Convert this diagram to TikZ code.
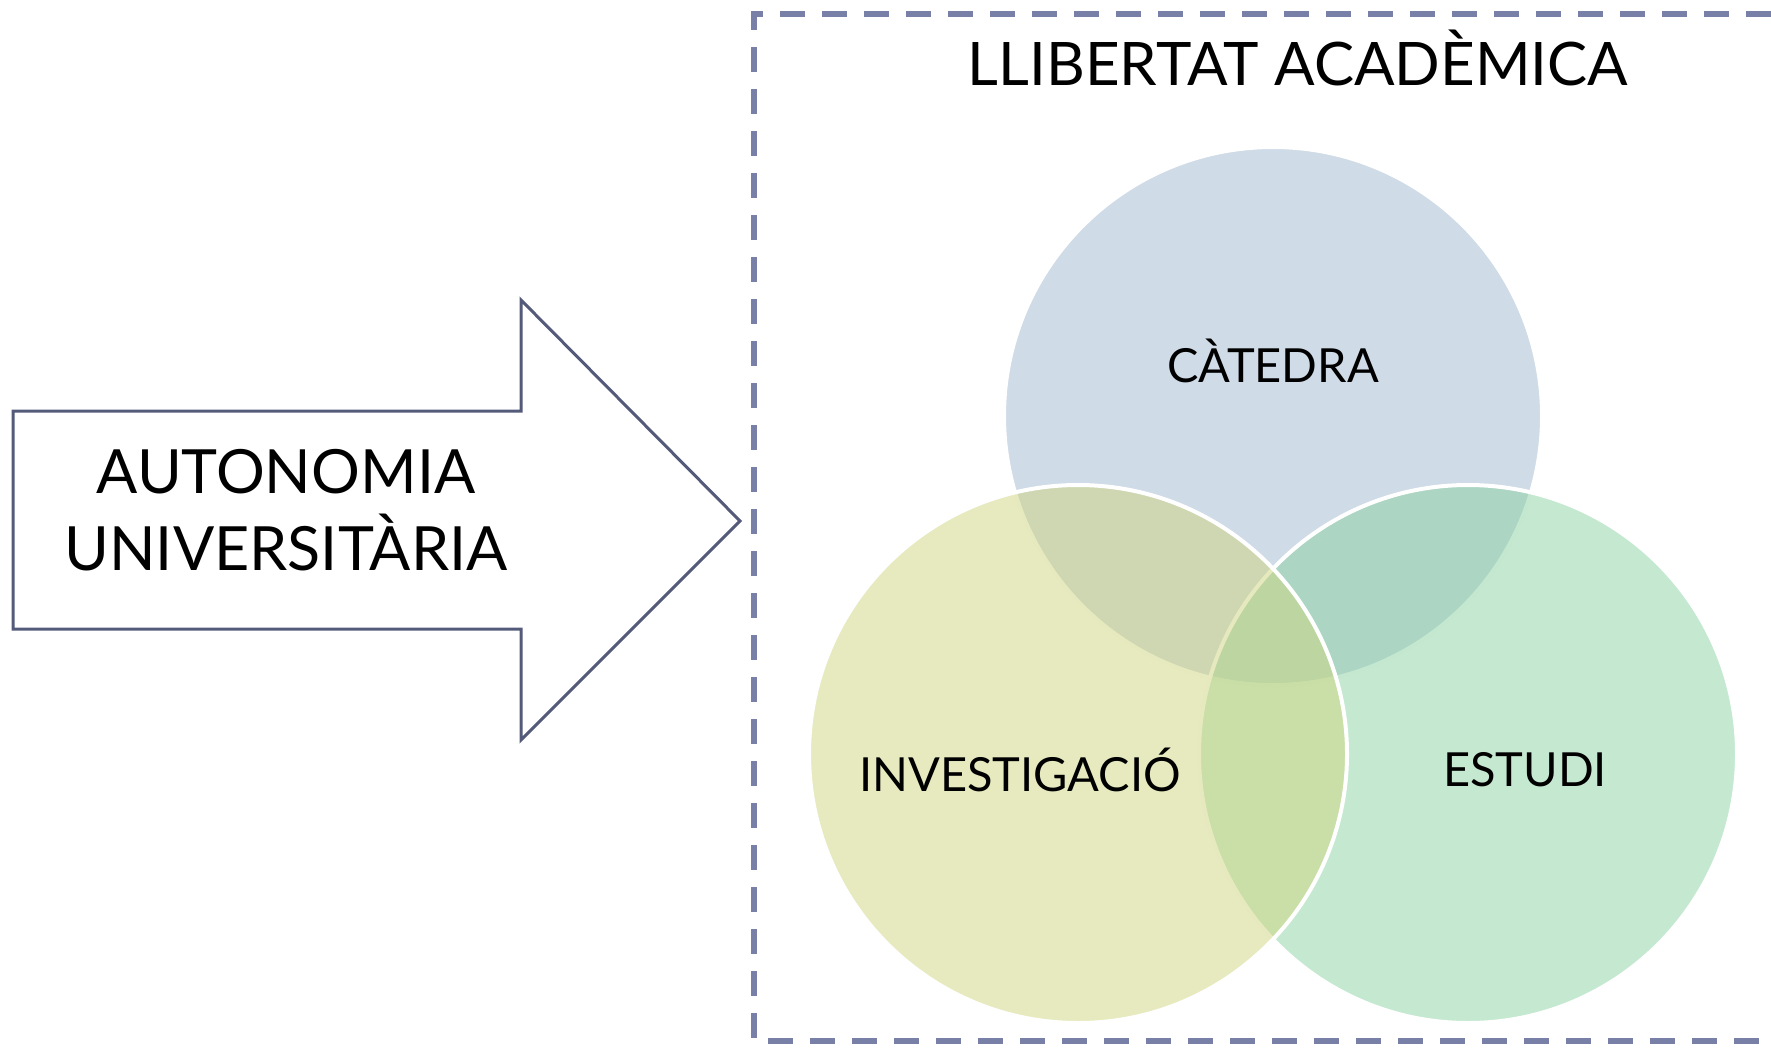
\documentclass[tikz,border=0pt]{standalone}
\usepackage{fontspec}
\setmainfont{Lato}
\definecolor{framec}{HTML}{7880A8}
\definecolor{arrowc}{HTML}{545A7A}
\definecolor{catc}{HTML}{CFDBE6}
\definecolor{invc}{HTML}{CFD57F}
\definecolor{estc}{HTML}{8BD1A1}

\begin{document}
\begin{tikzpicture} [x=0.5pt,y=-0.5pt,
  venn/.style= {shape=circle,minimum size=269pt,inner sep=0,draw=white,line width=2pt},
  big/.style= {font=\fontsize{30}{38}\selectfont,align=center,inner sep=0},
  small/.style= {font=\fontsize{23.5}{28}\selectfont,inner sep=0}]
  \useasboundingbox (0,0) rectangle (1771,1048);
  % Frame
  \draw[framec,line width=2.8pt,dash pattern=on 12.5pt off 8.5pt] (1771,14) -- (754,14) -- (754,1041) -- (1771,1041);
  \node[big] (title) at (1298,58) {LLIBERTAT ACADÈMICA};
  % Arrow
  \draw[arrowc,line width=1.5pt,line join=miter] (13,411) -- (521,411) -- (521,300) -- (740,521) -- (521,740) -- (521,629) -- (13,629) -- cycle;
  \node[big,font=\fontsize{30.5}{38.5}\selectfont] (auto) at (286,510) {AUTONOMIA\\UNIVERSITÀRIA};
  % Circles
  {\node[venn][fill=catc] (cat) at (1273,416) { };}
  {\node[venn][fill=estc,fill opacity=0.5] (est) at (1468,754) { };}
  {\node[venn][fill=invc,fill opacity=0.5] (inv) at (1078,754) { };}
  % Labels
  {\node[small] (catl) at (1273,361) {CÀTEDRA};}
  {\node[small] (invl) at (1020,770) {INVESTIGACIÓ};}
  {\node[small] (estl) at (1525,770) {ESTUDI};}
\end{tikzpicture}
\end{document}
